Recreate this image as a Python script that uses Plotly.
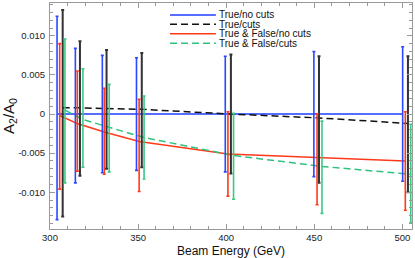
import plotly.graph_objects as go

# ---- data ----
series_names = ["True/no cuts", "True/cuts", "True & False/no cuts", "True & False/cuts"]

energy_true_nocuts = [304.0, 314.4, 329.7, 349.1, 399.5, 449.8, 500.2]
energy_true_cuts = [307.2, 317.0, 332.1, 352.1, 402.7, 452.7, 503.2]
energy_tf_nocuts = [305.5, 315.5, 330.8, 350.6, 401.0, 451.6, 501.7]
energy_tf_cuts = [308.5, 318.7, 333.6, 353.4, 404.2, 454.4, 504.8]

val_true_nocuts = [-0.0005, -0.0002, 0.0, 0.0, 0.0, 0.0, 0.0]
err_true_nocuts = [0.0130, 0.0086, 0.0075, 0.0072, 0.0074, 0.0080, 0.0086]
val_true_cuts = [0.0001, 0.0007, 0.0006, 0.0005, 0.0000, -0.0007, -0.0013]
err_true_cuts = [0.0132, 0.0086, 0.0076, 0.0073, 0.0076, 0.0081, 0.0087]
val_tf_nocuts = [-0.0003, -0.0009, -0.0022, -0.0040, -0.0051, -0.0058, -0.0060]
err_tf_nocuts = [0.0093, 0.0064, 0.0055, 0.0059, 0.0054, 0.0058, 0.0063]
val_tf_cuts = [0.0004, -0.0005, -0.0018, -0.0030, -0.0054, -0.0068, -0.0076]
err_tf_cuts = [0.0092, 0.0063, 0.0056, 0.0053, 0.0055, 0.0059, 0.0063]

fit_true_nocuts = [0.0, 0.0, 0.0, 0.0, 0.0, 0.0, 0.0]
fit_true_cuts = [0.0008, 0.0008, 0.0007, 0.0006, 0.0000, -0.0005, -0.0012]
fit_tf_nocuts = [-0.0002, -0.0012, -0.0023, -0.0035, -0.0051, -0.0056, -0.0060]
fit_tf_cuts = [0.0005, -0.0007, -0.0017, -0.0030, -0.0053, -0.0067, -0.0077]

x_tickvals = [300, 350, 400, 450, 500]
y_tickvals = [-0.010, -0.005, 0, 0.005, 0.010]
y_ticktext = ["-0.010", "-0.005", "0", "0.005", "0.010"]

# ---- styles ----
colors = ["#1f3cff", "#111111", "#ff3a1a", "#2ec27e"]
err_colors = ["#2a48ff", "#333333", "#ff3a1a", "#3cc884"]
dashes = ["solid", "dash", "solid", "dash"]

energies = [energy_true_nocuts, energy_true_cuts, energy_tf_nocuts, energy_tf_cuts]
vals = [val_true_nocuts, val_true_cuts, val_tf_nocuts, val_tf_cuts]
errs = [err_true_nocuts, err_true_cuts, err_tf_nocuts, err_tf_cuts]
fits = [fit_true_nocuts, fit_true_cuts, fit_tf_nocuts, fit_tf_cuts]

fig = go.Figure()

# fit lines
for i in range(4):
    fig.add_trace(go.Scatter(
        x=energies[i], y=fits[i], mode="lines",
        line=dict(color=colors[i], width=1.5, dash="7px,4px" if dashes[i] == "dash" else "solid"),
        showlegend=False, hoverinfo="skip"))

# error bars
for i in range(4):
    fig.add_trace(go.Scatter(
        x=energies[i], y=vals[i], mode="markers",
        marker=dict(size=1, opacity=0, color=colors[i]),
        error_y=dict(type="data", array=errs[i], visible=True,
                     color=err_colors[i], thickness=1.6 if i != 1 else 2.0, width=1.5),
        showlegend=False, hoverinfo="skip"))

# manual legend (compact rows)
L, R, T, B = 42, 2, 2, 28
W, H = 415, 258
pw, ph = W - L - R, H - T - B
leg_x0, leg_x1, leg_tx = 165, 212, 214
leg_rows = [14, 23.5, 33, 42.5]
for i, name in enumerate(series_names):
    yp = (H - B - leg_rows[i]) / ph
    fig.add_shape(type="line", xref="paper", yref="paper",
                  x0=(leg_x0 - L) / pw, x1=(leg_x1 - L) / pw, y0=yp, y1=yp,
                  line=dict(color=colors[i], width=1.5,
                            dash="7px,4px" if dashes[i] == "dash" else "solid"))
    fig.add_annotation(xref="paper", yref="paper", x=(leg_tx - L) / pw, y=yp,
                       text=name, showarrow=False, xanchor="left", yanchor="middle",
                       font=dict(size=10, color="#111111"), borderpad=0)

axis_common = dict(
    showline=True, linecolor="#999999", linewidth=1, mirror="allticks",
    ticks="inside", ticklen=5, tickcolor="#999999", tickwidth=1,
    showgrid=False, zeroline=False,
    tickfont=dict(size=9.5, color="#222222"),
)

fig.update_xaxes(
    range=[300, 505.5], tickvals=x_tickvals,
    minor=dict(ticks="inside", ticklen=3, dtick=10, tick0=300, tickcolor="#999999"),
    title=dict(text="Beam Energy (GeV)", font=dict(size=12, color="#111111"), standoff=4),
    **axis_common)
fig.update_yaxes(
    range=[-0.0147, 0.0142], tickvals=y_tickvals, ticktext=y_ticktext,
    minor=dict(ticks="inside", ticklen=3, dtick=0.001, tick0=0, tickcolor="#999999"),
    title=dict(text="A<sub>2</sub>/A<sub>0</sub>", font=dict(size=15, color="#111111"), standoff=6),
    ticklabelstandoff=2,
    **axis_common)

fig.update_layout(
    width=W, height=H,
    margin=dict(l=L, r=R, t=T, b=B),
    paper_bgcolor="white", plot_bgcolor="white",
    font=dict(family="Liberation Sans, Arial, sans-serif"),
    showlegend=False,
)

fig.write_html("out.html", config={"displayModeBar": False},
               post_script="document.body.style.margin='0';document.body.style.overflow='hidden';")
